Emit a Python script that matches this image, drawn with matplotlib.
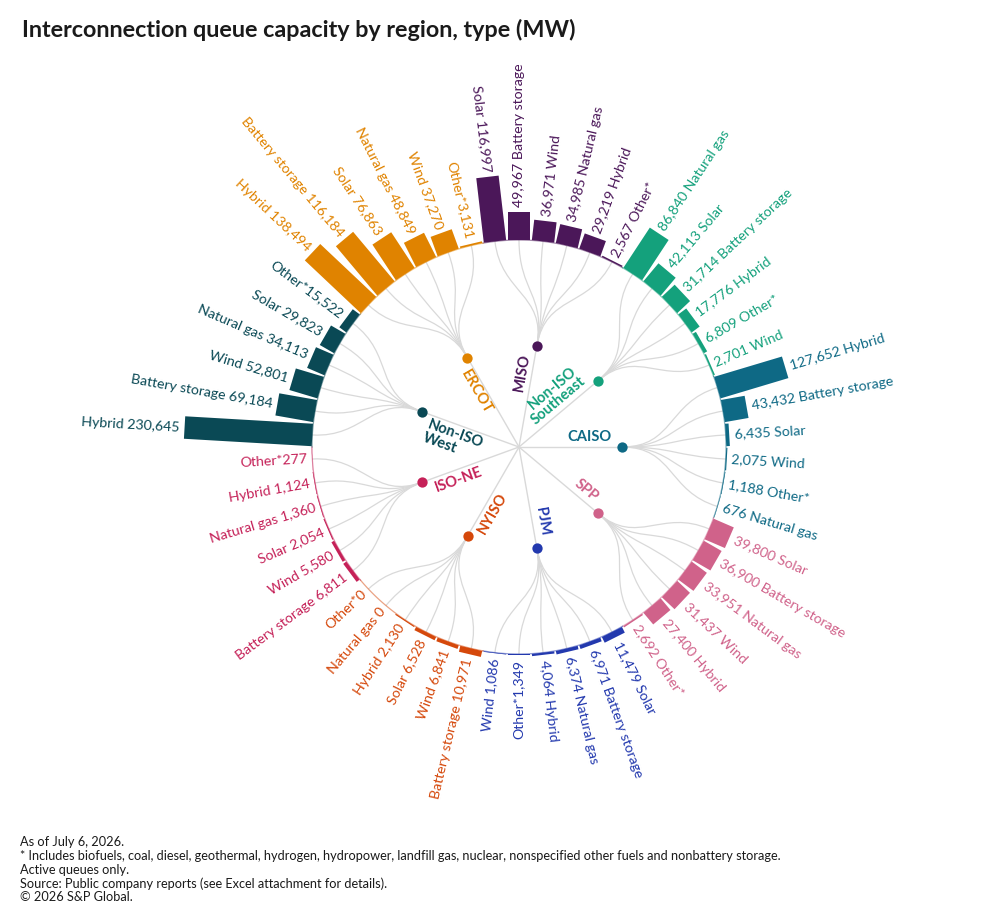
import numpy as np
import matplotlib
matplotlib.use("Agg")
import matplotlib.pyplot as plt
from matplotlib.patches import Rectangle, PathPatch
from matplotlib.path import Path
from matplotlib.transforms import Affine2D

plt.rcParams['font.family'] = ['Lato', 'DejaVu Sans']

# ******************************
## Data (MW), clockwise from the top
# ******************************
regions = ["MISO", "Non-ISO\nSoutheast", "CAISO", "SPP", "PJM",
           "NYISO", "ISO-NE", "Non-ISO\nWest", "ERCOT"]
colors = ["#4b1759", "#14a17c", "#0e6985", "#d0628a", "#2339ae",
          "#d5480b", "#c52158", "#0a4955", "#e08300"]

miso_types = ["Solar", "Battery storage", "Wind", "Natural gas", "Hybrid", "Other*"]
miso_mw = [116997, 49967, 36971, 34985, 29219, 2567]
se_types = ["Natural gas", "Solar", "Battery storage", "Hybrid", "Other*", "Wind"]
se_mw = [86840, 42113, 31714, 17776, 6809, 2701]
caiso_types = ["Hybrid", "Battery storage", "Solar", "Wind", "Other*", "Natural gas"]
caiso_mw = [127652, 43432, 6435, 2075, 1188, 676]
spp_types = ["Solar", "Battery storage", "Natural gas", "Wind", "Hybrid", "Other*"]
spp_mw = [39800, 36900, 33951, 31437, 27400, 2692]
pjm_types = ["Solar", "Battery storage", "Natural gas", "Hybrid", "Other*", "Wind"]
pjm_mw = [11479, 6971, 6374, 4064, 1349, 1086]
nyiso_types = ["Battery storage", "Wind", "Solar", "Hybrid", "Natural gas", "Other*"]
nyiso_mw = [10971, 6841, 6528, 2130, 0, 0]
isone_types = ["Battery storage", "Wind", "Solar", "Natural gas", "Hybrid", "Other*"]
isone_mw = [6811, 5580, 2054, 1360, 1124, 277]
west_types = ["Hybrid", "Battery storage", "Wind", "Natural gas", "Solar", "Other*"]
west_mw = [230645, 69184, 52801, 34113, 29823, 15522]
ercot_types = ["Hybrid", "Battery storage", "Solar", "Natural gas", "Wind", "Other*"]
ercot_mw = [138494, 116184, 76863, 48849, 37270, 3131]

all_types = [miso_types, se_types, caiso_types, spp_types, pjm_types,
             nyiso_types, isone_types, west_types, ercot_types]
all_mw = [miso_mw, se_mw, caiso_mw, spp_mw, pjm_mw,
          nyiso_mw, isone_mw, west_mw, ercot_mw]

title = "Interconnection queue capacity by region, type (MW)"
notes = ["As of July 6, 2026.",
         "* Includes biofuels, coal, diesel, geothermal, hydrogen, hydropower, landfill gas, nuclear, nonspecified other fuels and nonbattery storage.",
         "Active queues only.",
         "Source: Public company reports (see Excel attachment for details).",
         "\u00a9 2026 S&P Global."]

# ******************************
## Canvas (axes units = pixels)
# ******************************
W, H = 983, 919
fig = plt.figure(figsize=(W / 100, H / 100), dpi=100)
ax = fig.add_axes([0, 0, 1, 1])
ax.set_xlim(0, W)
ax.set_ylim(0, H)
ax.set_aspect('equal')
ax.axis('off')

cx, cy = 519, H - 447
r_node = 103
r0 = 207
len_max = 128            # px for the largest value
bar_w = 22.5
n_bars = sum(len(t) for t in all_types)
step = 360 / n_bars
scale = len_max / max(max(m) for m in all_mw)
link_col = "#d9d9d9"
lab_fs = 10.2


def pol(a, r):
    a = np.deg2rad(a)
    return cx + r * np.cos(a), cy + r * np.sin(a)


for g, (name, col, types, mws) in enumerate(zip(regions, colors, all_types, all_mw)):
    a_g = 80 - 40 * g
    nx, ny = pol(a_g, r_node)
    # trunk from the centre
    ax.plot([cx, nx], [cy, ny], color=link_col, lw=1, zorder=1)

    # baseline arc of the group
    arc = np.linspace(a_g + 3 * step, a_g - 3 * step, 60)
    ax.plot(*pol(arc, r0), color=col, lw=0.9, alpha=0.5, zorder=2)

    for j, (t, v) in enumerate(zip(types, mws)):
        a_b = a_g + (2.5 - j) * step
        rm = (r_node + r0) / 2
        verts = [pol(a_g, r_node), pol(a_g, rm), pol(a_b, rm), pol(a_b, r0)]
        link = Path(verts, [Path.MOVETO, Path.CURVE4, Path.CURVE4, Path.CURVE4])
        ax.add_patch(PathPatch(link, fc='none', ec=link_col, lw=0.9, zorder=1))

        ln = v * scale
        tr = Affine2D().rotate_deg(a_b).translate(cx, cy) + ax.transData
        ax.add_patch(Rectangle((r0, -bar_w / 2), ln, bar_w, fc=col, ec='none',
                               transform=tr, zorder=3))

        a_n = (a_b + 180) % 360 - 180
        lx, ly = pol(a_b, r0 + ln + 5)
        val = f"{v:,}"
        if -90 < a_n <= 90:
            ax.text(lx, ly, f"{val} {t}", rotation=a_n, rotation_mode='anchor',
                    ha='left', va='center', color=col, fontsize=lab_fs)
        else:
            sep = "" if t == "Other*" else " "
            ax.text(lx, ly, f"{t}{sep}{val}", rotation=a_n + 180, rotation_mode='anchor',
                    ha='right', va='center', color=col, fontsize=lab_fs)

    # node and region label
    ax.scatter([nx], [ny], s=55, color=col, zorder=4, linewidths=0)
    a_n = (a_g + 180) % 360 - 180
    px, py = pol(a_g, 93)
    ox, oy = 3 * np.cos(np.deg2rad(a_g + 90)), 3 * np.sin(np.deg2rad(a_g + 90))
    if -90 < a_n <= 90:
        ax.text(px + ox, py + oy, name, rotation=a_n, rotation_mode='anchor',
                ha='right', va='bottom', multialignment='right', color=col,
                fontsize=10.6, fontweight='bold', linespacing=0.95)
    else:
        ax.text(px + ox, py + oy, name, rotation=a_n + 180, rotation_mode='anchor',
                ha='left', va='top', multialignment='left', color=col,
                fontsize=10.6, fontweight='bold', linespacing=0.95)

# ******************************
## Title and notes
# ******************************
fig.text(22 / W, 1 - 30 / H, title, fontsize=16.8, fontweight='bold',
         color='#1a1a1a', va='center', ha='left')
for i, s in enumerate(notes):
    fig.text(20 / W, 1 - (842 + 13.8 * i) / H, s, fontsize=9.2,
             color='#1a1a1a', va='center', ha='left')

fig.savefig("out.png", dpi=100)
